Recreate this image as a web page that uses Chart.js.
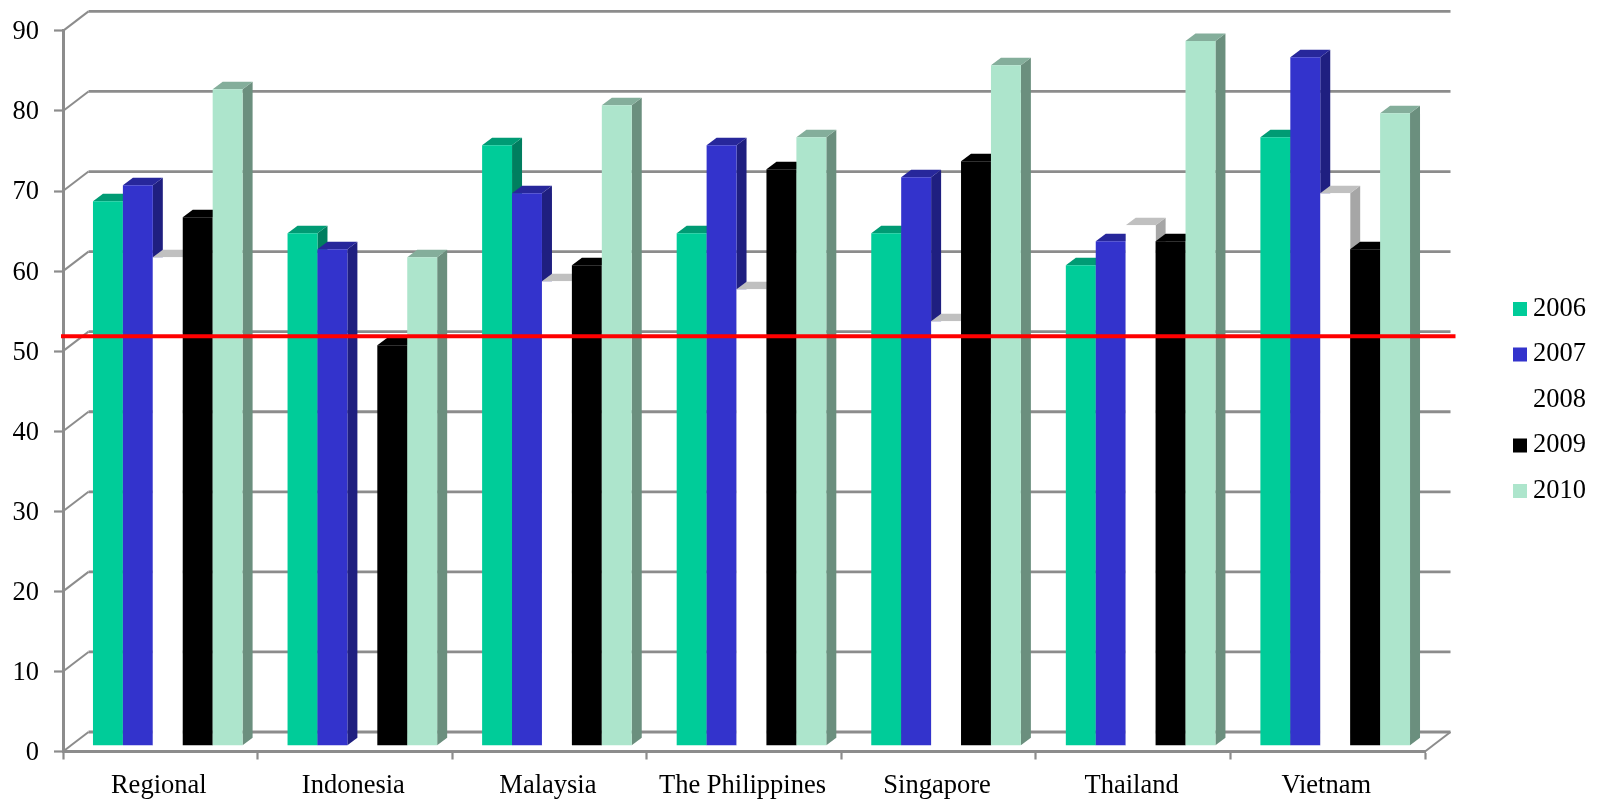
<!DOCTYPE html>
<html>
<head>
<meta charset="utf-8">
<title>Scores by country, 2006-2010</title>
<script src="https://cdn.jsdelivr.net/npm/chart.js@4/dist/chart.umd.min.js"></script>
<style>
  html, body { margin: 0; padding: 0; background: #fff; }
  canvas { display: block; }
</style>
</head>
<body>
<canvas id="chart" width="1598" height="801"></canvas>
<script>
const categories = ['Regional', 'Indonesia', 'Malaysia', 'The Philippines', 'Singapore', 'Thailand', 'Vietnam'];
const seriesNames = ['2006', '2007', '2008', '2009', '2010'];
const values2006 = [68, 64, 75, 64, 64, 60, 76];
const values2007 = [70, 62, 69, 75, 71, 63, 86];
const values2008 = [61, null, 58, 57, 53, 65, 69];
const values2009 = [66, 50, 60, 72, 73, 63, 62];
const values2010 = [82, 61, 80, 76, 85, 88, 79];
const averageLine = 51;

const frontColors = ['#00CC99', '#3333CC', '#FFFFFF', '#000000', '#ADE5CC'];
const topColors = ['#009B74', '#27279B', '#C0C0C0', '#000000', '#84AE9B'];
const sideColors = ['#007E5F', '#1F1F80', '#A6A6A6', '#000000', '#6B8F7E'];
const axisColor = '#8C8C8C';
const fontFamily = '"Liberation Serif", "Times New Roman", serif';

// depth of the 3D box: walls sit behind the axes, bars stand inside the floor
const wall = { dx: 25.5, dy: -19.5 };
const barPlane = { dx: 7.5, dy: -5.8 };
const barDepth = { dx: 10, dy: -7.5 };

const columnsAndWalls = {
  id: 'columnsAndWalls',
  beforeDatasetsDraw(chart) {
    const { ctx, chartArea, scales } = chart;

    // back wall and left wall lines, one per y tick
    ctx.save();
    ctx.strokeStyle = axisColor;
    scales.y.ticks.forEach(t => {
      const y = scales.y.getPixelForValue(t.value);
      ctx.lineWidth = 2;
      ctx.beginPath();
      ctx.moveTo(chartArea.left, y);
      ctx.lineTo(chartArea.left + wall.dx, y + wall.dy);
      ctx.stroke();
      ctx.lineWidth = 2.8;
      ctx.beginPath();
      ctx.moveTo(chartArea.left + wall.dx, y + wall.dy);
      ctx.lineTo(chartArea.right + wall.dx, y + wall.dy);
      ctx.stroke();
    });
    // right edge of the floor
    ctx.lineWidth = 2;
    ctx.beginPath();
    ctx.moveTo(chartArea.right, chartArea.bottom);
    ctx.lineTo(chartArea.right + wall.dx, chartArea.bottom + wall.dy);
    ctx.stroke();
    ctx.restore();

    // series go left to right so each column covers the side of the previous one
    ctx.save();
    ctx.translate(barPlane.dx, barPlane.dy);
    chart.data.datasets.forEach((ds, i) => {
      chart.getDatasetMeta(i).data.forEach((bar, j) => {
        if (ds.data[j] === null) return;
        const left = bar.x - bar.width / 2;
        const right = bar.x + bar.width / 2;

        ctx.fillStyle = sideColors[i];
        ctx.beginPath();
        ctx.moveTo(right, bar.y);
        ctx.lineTo(right + barDepth.dx, bar.y + barDepth.dy);
        ctx.lineTo(right + barDepth.dx, bar.base + barDepth.dy);
        ctx.lineTo(right, bar.base);
        ctx.closePath();
        ctx.fill();

        ctx.fillStyle = topColors[i];
        ctx.beginPath();
        ctx.moveTo(left, bar.y);
        ctx.lineTo(left + barDepth.dx, bar.y + barDepth.dy);
        ctx.lineTo(right + barDepth.dx, bar.y + barDepth.dy);
        ctx.lineTo(right, bar.y);
        ctx.closePath();
        ctx.fill();

        bar.draw(ctx, chartArea);
      });
    });

    // red reference line across the columns
    const lineY = scales.y.getPixelForValue(averageLine) - 1;
    ctx.strokeStyle = '#FF0000';
    ctx.lineWidth = 4;
    ctx.beginPath();
    ctx.moveTo(chartArea.left - barPlane.dx - 2, lineY);
    ctx.lineTo(chartArea.right + wall.dx + 5 - barPlane.dx, lineY);
    ctx.stroke();
    ctx.restore();

    return false;
  }
};

// legend sits well right of the plot, away from where the layout puts it
const legendPlacement = {
  id: 'legendPlacement',
  afterLayout(chart) {
    const legend = chart.legend;
    legend.left = 1494;
    legend.right = 1586;
    legend.top -= 15.5;
    legend.bottom -= 15.5;
  }
};

new Chart(document.getElementById('chart'), {
  type: 'bar',
  data: {
    labels: categories,
    datasets: [values2006, values2007, values2008, values2009, values2010].map((data, i) => ({
      label: seriesNames[i],
      data,
      backgroundColor: frontColors[i],
      borderWidth: 0,
      barPercentage: 1,
      categoryPercentage: 0.769
    }))
  },
  options: {
    responsive: false,
    animation: false,
    layout: { autoPadding: false, padding: { top: 30, right: 63.75 } },
    plugins: {
      tooltip: { enabled: false },
      legend: {
        position: 'right',
        labels: {
          boxWidth: 14,
          boxHeight: 14,
          padding: 19,
          textAlign: 'right',
          color: '#000',
          font: { family: fontFamily, size: 26.5 }
        }
      }
    },
    scales: {
      x: {
        afterFit(scale) { scale.height = 49.5; },
        grid: { drawOnChartArea: false, tickLength: 8, tickColor: axisColor, tickWidth: 2.2 },
        border: { color: axisColor, width: 3 },
        ticks: { color: '#000', padding: 11, maxRotation: 0, labelOffset: -1.5, font: { family: fontFamily, size: 26.5 } }
      },
      y: {
        min: 0,
        max: 90,
        afterFit(scale) { scale.width = 63; },
        grid: { drawOnChartArea: false, tickLength: 9, tickColor: axisColor, tickWidth: 2.2 },
        border: { color: axisColor, width: 3 },
        ticks: { stepSize: 10, color: '#000', padding: 15, labelOffset: 1.5, font: { family: fontFamily, size: 26.5 } }
      }
    }
  },
  plugins: [columnsAndWalls, legendPlacement]
});
</script>
</body>
</html>
